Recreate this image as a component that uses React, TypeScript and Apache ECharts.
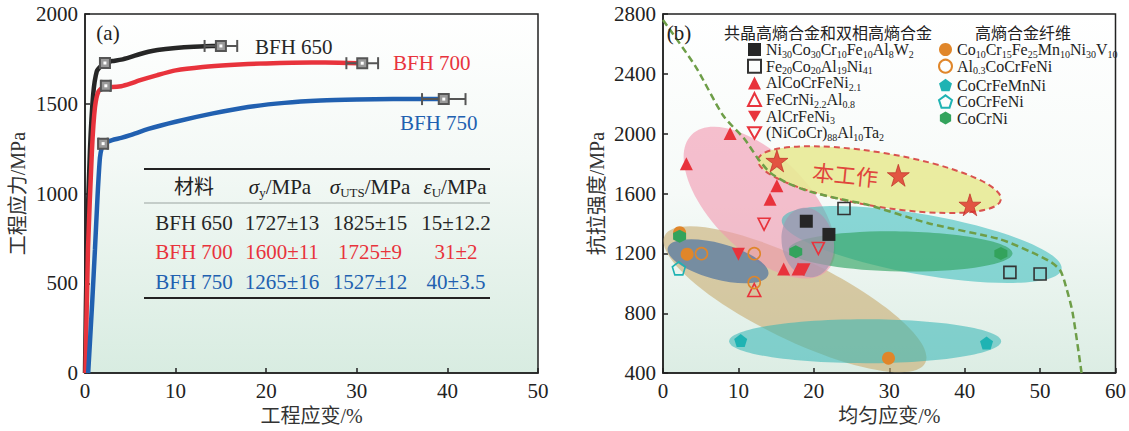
import React, { useEffect, useRef } from "react";
import * as echarts from "echarts";

const SERIF = "'Liberation Serif', 'Times New Roman', 'Noto Sans CJK SC', serif";

// ---------------- Panel (a): stress-strain curves ----------------
const curveBFH650 = [
  [0, 0], [0.2, 690], [0.55, 1244], [0.9, 1550], [1.3, 1680], [1.8, 1712], [2.4, 1730],
  [3, 1738], [4, 1746], [5, 1760], [6, 1776], [7, 1790], [8, 1800], [10, 1811], [12, 1818], [14, 1822], [14.8, 1822],
];
const curveBFH700 = [
  [0.05, 0], [0.33, 690], [0.77, 1244], [1.1, 1480], [1.5, 1570], [2.3, 1600], [3, 1594], [4, 1598],
  [5, 1612], [6, 1630], [8, 1660], [10, 1686], [13, 1705], [16, 1716], [20, 1725], [25, 1730], [28, 1729], [30.2, 1726],
];
const curveBFH750 = [
  [0.35, 0], [0.8, 400], [1.1, 690], [1.4, 1000], [1.65, 1200], [1.85, 1255], [2.1, 1280], [3, 1298],
  [4, 1310], [5, 1325], [7, 1360], [10, 1400], [14, 1445], [18, 1482], [22, 1505], [26, 1518], [30, 1524],
  [34, 1527], [38, 1527], [39.6, 1526],
];
// [strain, stress, strain error]
const utsPoints = [[15, 1822, 1.8], [30.6, 1726, 1.75], [39.6, 1526, 2.4]];
const yieldPoints = [[2.2, 1727, 0.5], [2.3, 1600, 0.5], [2.0, 1278, 0.5]];
const curveNames = ["BFH 650", "BFH 700", "BFH 750"];

const tableMaterials = ["BFH 650", "BFH 700", "BFH 750"];
const tableYield = ["1727±13", "1600±11", "1265±16"];
const tableUTS = ["1825±15", "1725±9", "1527±12"];
const tableElong = ["15±12.2", "31±2", "40±3.5"];

// ---------------- Panel (b): strength vs uniform strain ----------------
const ptsNiCoCrFeAlW = [[19, 1415], [22, 1327]];
const ptsFeCoAlNi = [[24, 1500], [46, 1073], [50, 1062]];
const ptsAlCoCrFeNi21 = [[3.1, 1800], [8.9, 2002], [15.1, 1652], [14.2, 1562], [16, 1095], [17.9, 1095]];
const ptsFeCrNiAl = [[12.1, 955]];
const ptsAlCrFeNi3 = [[10, 1195], [18.7, 1090]];
const ptsNiCoCrAlTa = [[13.4, 1395], [20.6, 1233]];
const ptsCoCrFeMnNiV = [[2.2, 1338], [3.2, 1195], [29.9, 500]];
const ptsAl03 = [[5.1, 1198], [12.1, 1198], [12.1, 1005]];
const ptsCoCrFeMnNi = [[10.3, 618], [42.9, 602]];
const ptsCoCrFeNi = [[2.1, 1100]];
const ptsCoCrNi = [[2.2, 1315], [17.6, 1211], [44.8, 1200]];
const ptsThisWork = [[15.1, 1818], [31.2, 1722], [40.7, 1525]];

const boundary = [
  [0, 2760], [4.3, 2450], [8, 2120], [10.8, 1965], [12.5, 1840], [14.2, 1740], [16.5, 1670], [19.5, 1613],
  [23.8, 1560], [27, 1527], [35.3, 1400], [44.6, 1296], [49, 1205], [51.5, 1140], [52.7, 1084], [53.4, 984],
  [54.3, 807], [55.5, 400],
];

// centers of the shaded groups (data units)
const regionCenters = [
  [17.5, 894],  // tan
  [26.8, 613],  // teal low
  [12.8, 1540], // pink
  [7.3, 1147],  // slate
  [34.3, 1260], // teal high
  [31.5, 1213], // green
  [19.2, 1273], // purple
  [28.7, 1693], // yellow (this work)
];
const regionStyles = [
  { rx: 145, ry: 40, deg: 26, fill: "rgba(200,172,112,0.6)" },
  { rx: 136, ry: 22, deg: 0, fill: "rgba(50,180,180,0.55)" },
  { rx: 96, ry: 48, deg: 45, fill: "rgba(242,150,175,0.6)" },
  { rx: 52, ry: 18, deg: 15, fill: "rgba(85,120,160,0.75)" },
  { rx: 142, ry: 30, deg: 10, fill: "rgba(50,185,185,0.55)" },
  { rx: 112, ry: 20, deg: 1, fill: "rgba(50,165,100,0.65)" },
  { rx: 35, ry: 26, deg: 80, fill: "rgba(165,150,175,0.7)" },
  { rx: 123, ry: 27, deg: 9.4, fill: "rgba(232,234,150,0.9)", stroke: "#d9534f", dash: true },
];

const BLACK = "#262626";
const RED = "#e8333c";
const BLUE = "#2160b0";
const ORANGE = "#e0862a";
const TEAL = "#1fb3b3";
const GREEN = "#33a35c";

const SYM_TRI_DOWN = "path://M-1,-0.866L1,-0.866L0,0.866Z";
const SYM_PENTA = "path://M0,-1L0.951,-0.309L0.588,0.809L-0.588,0.809L-0.951,-0.309Z";
const SYM_HEXA = "path://M0,-1L0.866,-0.5L0.866,0.5L0,1L-0.866,0.5L-0.866,-0.5Z";
const SYM_STAR =
  "path://M0,-1L0.2245,-0.309L0.951,-0.309L0.363,0.118L0.588,0.809L0,0.382L-0.588,0.809L-0.363,0.118L-0.951,-0.309L-0.2245,-0.309Z";

const EMPTY = "rgba(255,255,255,0)";

const markerSeries = [
  { name: "Ni30Co30Cr10Fe10Al8W2", data: ptsNiCoCrFeAlW, symbol: "rect", size: 13, fill: BLACK, border: BLACK },
  { name: "Fe20Co20Al19Ni41", data: ptsFeCoAlNi, symbol: "rect", size: 12, fill: EMPTY, border: "#333" },
  { name: "AlCoCrFeNi2.1", data: ptsAlCoCrFeNi21, symbol: "triangle", size: 13, fill: RED, border: RED },
  { name: "FeCrNi2.2Al0.8", data: ptsFeCrNiAl, symbol: "triangle", size: 13, fill: EMPTY, border: RED },
  { name: "AlCrFeNi3", data: ptsAlCrFeNi3, symbol: SYM_TRI_DOWN, size: 13, fill: RED, border: RED },
  { name: "(NiCoCr)88Al10Ta2", data: ptsNiCoCrAlTa, symbol: SYM_TRI_DOWN, size: 12, fill: EMPTY, border: RED },
  { name: "Co10Cr15Fe25Mn10Ni30V10", data: ptsCoCrFeMnNiV, symbol: "circle", size: 13, fill: ORANGE, border: ORANGE },
  { name: "Al0.3CoCrFeNi", data: ptsAl03, symbol: "circle", size: 12, fill: EMPTY, border: ORANGE },
  { name: "CoCrFeMnNi", data: ptsCoCrFeMnNi, symbol: SYM_PENTA, size: 13, fill: TEAL, border: TEAL },
  { name: "CoCrFeNi", data: ptsCoCrFeNi, symbol: SYM_PENTA, size: 13, fill: EMPTY, border: TEAL },
  { name: "CoCrNi", data: ptsCoCrNi, symbol: SYM_HEXA, size: 13, fill: GREEN, border: GREEN },
];

const toRich = (name: string) =>
  name
    .split(/(\d+(?:\.\d+)?)/)
    .filter((p) => p.length > 0)
    .map((p) => (/^\d/.test(p) ? `{s|${p}}` : `{n|${p}}`))
    .join("");

const legendRich = {
  n: { fontSize: 16, fontFamily: SERIF, color: "#222", lineHeight: 14 },
  s: { fontSize: 10, fontFamily: SERIF, color: "#222", lineHeight: 14, padding: [9, 0, 0, 0] },
};

function buildOption() {
  const gradA = new echarts.graphic.LinearGradient(0, 0, 0, 1, [
    { offset: 0, color: "#ffffff" },
    { offset: 0.4, color: "#f4f9f6" },
    { offset: 1, color: "#d8ece1" },
  ]);
  const gradB = new echarts.graphic.LinearGradient(0, 0, 0, 1, [
    { offset: 0, color: "#ffffff" },
    { offset: 0.5, color: "#f6faf8" },
    { offset: 1, color: "#dcede4" },
  ]);

  const axisCommon = {
    type: "value",
    axisLine: { show: true, onZero: false, lineStyle: { color: "#222", width: 1.5 } },
    axisTick: { show: true, inside: true, length: 5, lineStyle: { color: "#222", width: 1.5 } },
    axisLabel: { color: "#222", fontFamily: SERIF, fontSize: 21, margin: 7, formatter: (v: number) => String(v) },
    splitLine: { show: false },
    nameLocation: "middle",
    nameTextStyle: { color: "#333", fontFamily: SERIF, fontSize: 20 },
  };

  const errorRender = (params: any, api: any) => {
    const x = api.value(0);
    const y = api.value(1);
    const e = api.value(2);
    const p = api.coord([x, y]);
    const l = api.coord([x - e, y]);
    const r = api.coord([x + e, y]);
    const st = { stroke: "#555", lineWidth: 2 };
    return {
      type: "group",
      children: [
        { type: "line", shape: { x1: l[0], y1: p[1], x2: r[0], y2: p[1] }, style: st },
        { type: "line", shape: { x1: l[0], y1: p[1] - 6, x2: l[0], y2: p[1] + 6 }, style: st },
        { type: "line", shape: { x1: r[0], y1: p[1] - 6, x2: r[0], y2: p[1] + 6 }, style: st },
        { type: "rect", shape: { x: p[0] - 5, y: p[1] - 5, width: 10, height: 10 }, style: { fill: "#9a9a9a", stroke: "#555", lineWidth: 2 } },
        { type: "rect", shape: { x: p[0] - 1.5, y: p[1] - 1.5, width: 3, height: 3 }, style: { fill: "#fff" } },
      ],
    };
  };

  const regionRender = (params: any, api: any) => {
    const s = regionStyles[params.dataIndex];
    const p = api.coord([api.value(0), api.value(1)]);
    return {
      type: "ellipse",
      x: p[0],
      y: p[1],
      rotation: (-s.deg * Math.PI) / 180,
      shape: { cx: 0, cy: 0, rx: s.rx, ry: s.ry },
      style: {
        fill: s.fill,
        stroke: s.stroke || null,
        lineWidth: s.stroke ? 2 : 0,
        lineDash: s.dash ? [6, 4] : null,
      },
    };
  };

  const tableRich = {
    i: { fontSize: 21, fontFamily: SERIF, fontStyle: "italic", fill: "#222", color: "#222", lineHeight: 22 },
    n: { fontSize: 21, fontFamily: SERIF, fill: "#222", color: "#222", lineHeight: 22 },
    s: { fontSize: 13, fontFamily: SERIF, fill: "#222", color: "#222", lineHeight: 22, padding: [10, 0, 0, 0] },
  };

  const T = (x: number, y: number, text: string, color: string, size = 21, extra: any = {}) => ({
    type: "text",
    x,
    y,
    silent: true,
    z: 100,
    style: {
      text,
      fill: color,
      fontSize: size,
      fontFamily: SERIF,
      align: "center",
      textAlign: "center",
      verticalAlign: "middle",
      textVerticalAlign: "middle",
      ...extra,
    },
  });

  const rowColors = [BLACK, RED, BLUE];
  const colX = [194, 282, 370, 456];
  const rowY = [223, 252, 282];
  const tableTexts: any[] = [];
  for (let i = 0; i < 3; i++) {
    tableTexts.push(T(colX[0], rowY[i], tableMaterials[i], rowColors[i]));
    tableTexts.push(T(colX[1], rowY[i], tableYield[i], rowColors[i]));
    tableTexts.push(T(colX[2], rowY[i], tableUTS[i], rowColors[i]));
    tableTexts.push(T(colX[3], rowY[i], tableElong[i], rowColors[i]));
  }

  const workLabel: any = T(845, 176, "本工作", "#e0463c", 22, {});
  workLabel.rotation = -0.1;

  const graphic = [
    T(108, 33, "(a)", "#222", 21),
    T(679, 33, "(b)", "#222", 21),
    T(255, 47, curveNames[0], BLACK, 21, { align: "left", textAlign: "left" }),
    T(393, 63, curveNames[1], RED, 21, { align: "left", textAlign: "left" }),
    T(400, 123, curveNames[2], BLUE, 21, { align: "left", textAlign: "left" }),
    // table
    { type: "line", silent: true, z: 100, shape: { x1: 144, y1: 169, x2: 490, y2: 169 }, style: { stroke: "#222", lineWidth: 2 } },
    { type: "line", silent: true, z: 100, shape: { x1: 144, y1: 203, x2: 490, y2: 203 }, style: { stroke: "#9aa3a0", lineWidth: 1 } },
    { type: "line", silent: true, z: 100, shape: { x1: 144, y1: 298, x2: 490, y2: 298 }, style: { stroke: "#222", lineWidth: 2 } },
    T(194, 187, "材料", "#222", 20),
    T(280, 187, "{i|σ}{s|y}{n|/MPa}", "#222", 21, { rich: tableRich }),
    T(370, 187, "{i|σ}{s|UTS}{n|/MPa}", "#222", 21, { rich: tableRich }),
    T(455, 187, "{i|ε}{s|U}{n|/MPa}", "#222", 21, { rich: tableRich }),
    ...tableTexts,
    // panel b
    T(828, 33, "共晶高熵合金和双相高熵合金", "#222", 16),
    T(1023, 33, "高熵合金纤维", "#222", 16),
    workLabel,
  ];

  const series: any[] = [
    ...[curveBFH650, curveBFH700, curveBFH750].map((d, i) => ({
      type: "line",
      name: curveNames[i],
      xAxisIndex: 0,
      yAxisIndex: 0,
      data: d,
      symbol: "none",
      smooth: 0.2,
      lineStyle: { width: 4.5, color: [BLACK, RED, BLUE][i] },
      z: 3,
    })),
    {
      type: "custom",
      name: "errors",
      xAxisIndex: 0,
      yAxisIndex: 0,
      data: [...utsPoints, ...yieldPoints],
      renderItem: errorRender,
      z: 5,
      silent: true,
    },
    {
      type: "custom",
      name: "regions",
      xAxisIndex: 1,
      yAxisIndex: 1,
      data: regionCenters,
      renderItem: regionRender,
      clip: true,
      z: 1,
      silent: true,
    },
    {
      type: "line",
      name: "boundary",
      xAxisIndex: 1,
      yAxisIndex: 1,
      data: boundary,
      symbol: "none",
      smooth: 0.25,
      lineStyle: { type: [7, 4], width: 2.5, color: "#6e9e48" },
      z: 2,
      silent: true,
    },
    ...markerSeries.map((m) => ({
      type: "scatter",
      name: m.name,
      xAxisIndex: 1,
      yAxisIndex: 1,
      data: m.data,
      symbol: m.symbol,
      symbolSize: m.size,
      itemStyle: { color: m.fill, borderColor: m.border, borderWidth: m.fill === EMPTY ? 1.6 : 0, opacity: 1 },
      z: 4,
    })),
    {
      type: "scatter",
      name: "本工作",
      xAxisIndex: 1,
      yAxisIndex: 1,
      data: ptsThisWork,
      symbol: SYM_STAR,
      symbolSize: 22,
      itemStyle: { color: "#e0302a", borderColor: "#b8261f", borderWidth: 0.8 },
      z: 4,
    },
  ];

  const legendBase = {
    orient: "vertical",
    itemWidth: 13,
    itemHeight: 13,
    itemGap: -2.3,
    padding: 0,
    selectedMode: false,
    formatter: toRich,
    textStyle: { rich: legendRich, fontSize: 16, fontFamily: SERIF, lineHeight: 14 },
  };

  return {
    animation: false,
    backgroundColor: "#ffffff",
    grid: [
      { left: 85, top: 14, width: 453, height: 360, show: true, borderColor: "#222", borderWidth: 1.5, backgroundColor: gradA },
      { left: 663, top: 14, width: 453, height: 360, show: true, borderColor: "#222", borderWidth: 1.5, backgroundColor: gradB },
    ],
    xAxis: [
      { ...axisCommon, gridIndex: 0, min: 0, max: 50, interval: 10, name: "工程应变/%", nameGap: 31 },
      { ...axisCommon, gridIndex: 1, min: 0, max: 60, interval: 10, name: "均匀应变/%", nameGap: 31 },
    ],
    yAxis: [
      { ...axisCommon, gridIndex: 0, min: 0, max: 2000, interval: 500, name: "工程应力/MPa", nameGap: 57 },
      { ...axisCommon, gridIndex: 1, min: 400, max: 2800, interval: 400, name: "抗拉强度/MPa", nameGap: 56 },
    ],
    legend: [
      { ...legendBase, left: 747, top: 40, data: markerSeries.slice(0, 6).map((m) => ({ name: m.name })) },
      { ...legendBase, left: 938, top: 40, data: markerSeries.slice(6, 8).map((m) => ({ name: m.name })) },
      { ...legendBase, left: 938, top: 77, itemGap: 0.5, data: markerSeries.slice(8).map((m) => ({ name: m.name })) },
    ],
    graphic,
    series,
  };
}

export default function App() {
  const ref = useRef<HTMLDivElement>(null);
  useEffect(() => {
    document.body.style.margin = "0";
    const chart = echarts.init(ref.current as HTMLDivElement, null, { renderer: "svg" });
    chart.setOption(buildOption() as any);
    return () => chart.dispose();
  }, []);
  return <div ref={ref} style={{ width: 1129, height: 431 }} />;
}
